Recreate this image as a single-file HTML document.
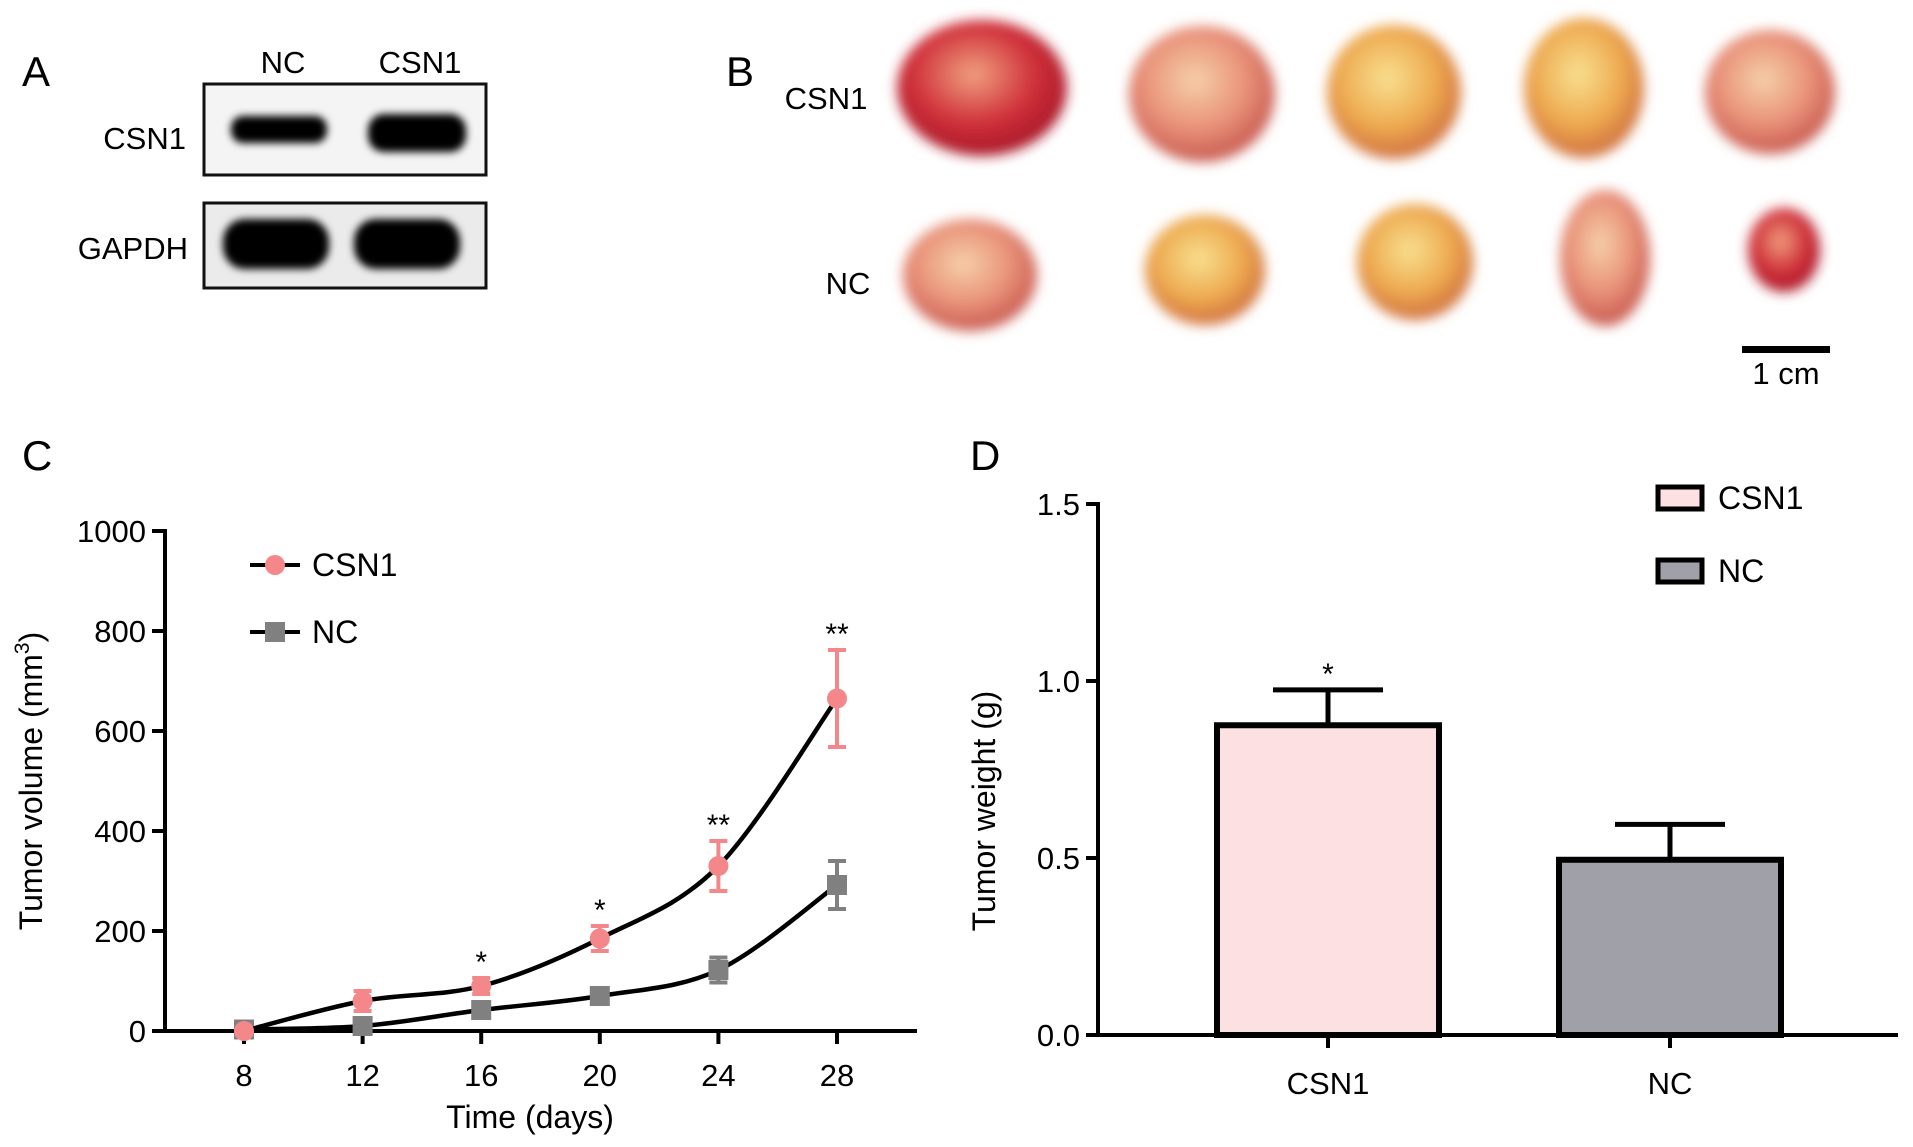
<!DOCTYPE html>
<html><head><meta charset="utf-8">
<style>
html,body{margin:0;padding:0;background:#fff;}
svg{display:block;font-family:"Liberation Sans",Arial,sans-serif;}
</style></head>
<body>
<svg id="fig" width="1913" height="1147" viewBox="0 0 1913 1147" xmlns="http://www.w3.org/2000/svg">
<defs>
<filter id="blur4"><feGaussianBlur stdDeviation="4"/></filter>
<filter id="blur6"><feGaussianBlur stdDeviation="6"/></filter>
<radialGradient id="tRed" cx="45%" cy="40%" r="60%"><stop offset="0" stop-color="#f0a080"/><stop offset="0.6" stop-color="#d0303a"/><stop offset="1" stop-color="#a81828"/></radialGradient>
<radialGradient id="tPink" cx="45%" cy="40%" r="60%"><stop offset="0" stop-color="#f6d0a8"/><stop offset="0.6" stop-color="#e89078"/><stop offset="1" stop-color="#c85a50"/></radialGradient>
<radialGradient id="tYel" cx="45%" cy="40%" r="60%"><stop offset="0" stop-color="#f8e090"/><stop offset="0.6" stop-color="#eeaa50"/><stop offset="1" stop-color="#d07040"/></radialGradient>
</defs>

<g>
<text x="22" y="86" font-size="42">A</text>
<text x="283" y="73" font-size="31" text-anchor="middle">NC</text>
<text x="420" y="73" font-size="31" text-anchor="middle">CSN1</text>
<text x="186" y="149" font-size="31" text-anchor="end">CSN1</text>
<text x="188" y="259" font-size="31" text-anchor="end">GAPDH</text>
<rect x="204" y="84" width="282" height="91" fill="#f4f4f4" stroke="#111" stroke-width="3"/>
<rect x="204" y="203" width="282" height="85" fill="#ebebeb" stroke="#111" stroke-width="3"/>
<g filter="url(#blur4)">
<rect x="231" y="116" width="96" height="27" rx="12" fill="#000"/>
<rect x="368" y="114" width="98" height="38" rx="16" fill="#000"/>
<rect x="223" y="219" width="106" height="50" rx="22" fill="#000"/>
<rect x="354" y="219" width="106" height="50" rx="22" fill="#000"/>
</g>
</g>

<g>
<text x="726" y="86" font-size="42">B</text>
<text x="826" y="109" font-size="31" text-anchor="middle">CSN1</text>
<text x="848" y="294" font-size="31" text-anchor="middle">NC</text>
<g filter="url(#blur6)">
<ellipse cx="982" cy="88" rx="85" ry="68" fill="url(#tRed)"/>
<ellipse cx="1202" cy="94" rx="73" ry="68" fill="url(#tPink)"/>
<ellipse cx="1394" cy="92" rx="67" ry="67" fill="url(#tYel)"/>
<ellipse cx="1584" cy="88" rx="60" ry="70" fill="url(#tYel)"/>
<ellipse cx="1770" cy="92" rx="65" ry="62" fill="url(#tPink)"/>
<ellipse cx="970" cy="275" rx="67" ry="56" fill="url(#tPink)"/>
<ellipse cx="1205" cy="270" rx="60" ry="55" fill="url(#tYel)"/>
<ellipse cx="1415" cy="262" rx="58" ry="58" fill="url(#tYel)"/>
<ellipse cx="1605" cy="258" rx="45" ry="68" fill="url(#tPink)"/>
<ellipse cx="1784" cy="250" rx="36" ry="42" fill="url(#tRed)"/>
</g>
<rect x="1742" y="346" width="88" height="7" fill="#000"/>
<text x="1786" y="384" font-size="31" text-anchor="middle">1 cm</text>
</g>

<g id="panelC">
<text x="22" y="470" font-size="42">C</text>
</g>
<g id="panelD">
<text x="970" y="470" font-size="42">D</text>
</g>
</svg>
<script>
// ---- Panel C data ----
const days = [8, 12, 16, 20, 24, 28];
const csn1Volume = [0, 60, 90, 185, 330, 665];
const csn1Err = [6, 20, 16, 25, 50, 97];
const ncVolume = [3, 10, 42, 70, 122, 292];
const ncErr = [6, 8, 10, 8, 25, 48];
const volTicks = [0, 200, 400, 600, 800, 1000];
const volSig = ["", "", "*", "*", "**", "**"];
// ---- Panel D data ----
const groups = ["CSN1", "NC"];
const weights = [0.875, 0.495];
const weightErr = [0.1, 0.1];
const weightTicks = ["0.0", "0.5", "1.0", "1.5"];
const weightSig = ["*", ""];

const NS = "http://www.w3.org/2000/svg";
function mk(parent, tag, attrs, text) {
  const e = document.createElementNS(NS, tag);
  for (const k in attrs) e.setAttribute(k, attrs[k]);
  if (text !== undefined) e.textContent = text;
  parent.appendChild(e);
  return e;
}
const FS = 31;

(function () {
  const g = document.getElementById('panelC');
  const x = d => 244 + (d - 8) * (837 - 244) / 20;
  const y = v => 1031 - v * 0.5;
  let e;
  e = mk(g, 'line', {x1: 165, y1: 529, x2: 165, y2: 1033, stroke: '#000', 'stroke-width': 4});
  
  
  e = mk(g, 'line', {x1: 163, y1: 1031, x2: 917, y2: 1031, stroke: '#000', 'stroke-width': 4});
  
  
  volTicks.forEach(t => {
    const l = mk(g, 'line', {x1: 152, x2: 165, y1: y(t), y2: y(t), stroke: '#000', 'stroke-width': 4});
    
    
    const tx = mk(g, 'text', {x: 146, y: y(t) + 11, 'font-size': FS, 'text-anchor': 'end'}, String(t));
    
    
  });
  days.forEach(d => {
    const l = mk(g, 'line', {x1: x(d), x2: x(d), y1: 1031, y2: 1044, stroke: '#000', 'stroke-width': 4});
    
    
    const tx = mk(g, 'text', {x: x(d), y: 1086, 'font-size': FS, 'text-anchor': 'middle'}, String(d));
    
    
  });
  e = mk(g, 'text', {x: 530, y: 1128, 'font-size': 32, 'text-anchor': 'middle'}, 'Time (days)');
  
  
  e = mk(g, 'text', {x: 0, y: 0, 'font-size': 32, 'text-anchor': 'middle', transform: 'translate(42,781) rotate(-90)'});
  
  
  mk(e, 'tspan', {}, 'Tumor volume (mm');
  mk(e, 'tspan', {'font-size': 21, dy: -13}, '3');
  mk(e, 'tspan', {dy: 13}, ')');

  function smooth(vals) {
    const p = days.map((d, i) => [x(d), y(vals[i])]);
    let s = 'M' + p[0][0] + ',' + p[0][1];
    for (let i = 0; i < p.length - 1; i++) {
      const p0 = p[i - 1] || p[i], p1 = p[i], p2 = p[i + 1], p3 = p[i + 2] || p2;
      const c1 = [p1[0] + (p2[0] - p0[0]) / 6, p1[1] + (p2[1] - p0[1]) / 6];
      const c2 = [p2[0] - (p3[0] - p1[0]) / 6, p2[1] - (p3[1] - p1[1]) / 6];
      s += ' C' + c1 + ' ' + c2 + ' ' + p2;
    }
    return s;
  }
  function series(vals, errs, color, shape, name) {
    const ln = mk(g, 'path', {d: smooth(vals), fill: 'none', stroke: '#000', 'stroke-width': 4.5});
    
    
    days.forEach((d, i) => {
      const cx = x(d), cy = y(vals[i]), t = y(vals[i] + errs[i]), b = y(vals[i] - errs[i]);
      const eb = mk(g, 'path', {d: `M${cx},${t}V${b}M${cx - 9},${t}H${cx + 9}M${cx - 9},${b}H${cx + 9}`, stroke: color, 'stroke-width': 4, fill: 'none'});
      
      
      let m;
      if (shape === 'circle') m = mk(g, 'circle', {cx: cx, cy: cy, r: 10, fill: color});
      else m = mk(g, 'rect', {x: cx - 10, y: cy - 10, width: 20, height: 20, fill: color});
      
      
    });
  }
  series(ncVolume, ncErr, '#808080', 'square', 'nc');
  series(csn1Volume, csn1Err, '#f4878a', 'circle', 'csn1');
  days.forEach((d, i) => {
    if (!volSig[i]) return;
    const s = mk(g, 'text', {x: x(d), y: y(csn1Volume[i] + csn1Err[i]) - 6, 'font-size': 30, 'text-anchor': 'middle'}, volSig[i]);
    
    
  });
  [['CSN1', '#f4878a', 'circle', 565], ['NC', '#808080', 'square', 632]].forEach(([lab, c, sh, ly]) => {
    const lg = mk(g, 'g', {});
    
    
    mk(lg, 'line', {x1: 250, x2: 300, y1: ly, y2: ly, stroke: '#000', 'stroke-width': 4});
    if (sh === 'circle') mk(lg, 'circle', {cx: 275, cy: ly, r: 10, fill: c});
    else mk(lg, 'rect', {x: 265, y: ly - 10, width: 20, height: 20, fill: c});
    mk(lg, 'text', {x: 312, y: ly + 11, 'font-size': 32}, lab);
  });
})();

(function () {
  const g = document.getElementById('panelD');
  const y = v => 1035 - v * (1035 - 504) / 1.5;
  const centers = [1328, 1670];
  const bw = 222;
  const fills = ['#fde0e2', '#a0a0a8'];
  let e;
  e = mk(g, 'line', {x1: 1098, y1: 502, x2: 1098, y2: 1037, stroke: '#000', 'stroke-width': 4});
  
  
  e = mk(g, 'line', {x1: 1096, y1: 1035, x2: 1898, y2: 1035, stroke: '#000', 'stroke-width': 4});
  
  
  weightTicks.forEach(t => {
    const v = parseFloat(t);
    const l = mk(g, 'line', {x1: 1086, x2: 1098, y1: y(v), y2: y(v), stroke: '#000', 'stroke-width': 4});
    
    
    const tx = mk(g, 'text', {x: 1080, y: y(v) + 11, 'font-size': FS, 'text-anchor': 'end'}, t);
    
    
  });
  e = mk(g, 'text', {x: 0, y: 0, 'font-size': 32, 'text-anchor': 'middle', transform: 'translate(995,811) rotate(-90)'}, 'Tumor weight (g)');
  
  
  groups.forEach((grp, i) => {
    const cx = centers[i];
    const top = y(weights[i] + weightErr[i]);
    const eb = mk(g, 'path', {d: `M${cx},${y(weights[i])}V${top}M${cx - 55},${top}H${cx + 55}`, stroke: '#000', 'stroke-width': 5, fill: 'none'});
    
    
    const b = mk(g, 'rect', {x: cx - bw / 2, y: y(weights[i]), width: bw, height: 1035 - y(weights[i]), fill: fills[i], stroke: '#000', 'stroke-width': 6});
    
    
    const tk = mk(g, 'line', {x1: cx, x2: cx, y1: 1035, y2: 1048, stroke: '#000', 'stroke-width': 4});
    
    
    const tl = mk(g, 'text', {x: cx, y: 1094, 'font-size': FS, 'text-anchor': 'middle'}, grp);
    
    
    if (weightSig[i]) {
      const s = mk(g, 'text', {x: cx, y: top - 6, 'font-size': 30, 'text-anchor': 'middle'}, weightSig[i]);
      
      
    }
  });
  [[0, 498], [1, 571]].forEach(([i, ly]) => {
    const lg = mk(g, 'g', {});
    
    
    mk(lg, 'rect', {x: 1658, y: ly - 11, width: 44, height: 22, fill: fills[i], stroke: '#000', 'stroke-width': 5});
    mk(lg, 'text', {x: 1718, y: ly + 11, 'font-size': 32}, groups[i]);
  });
})();
</script>
</body></html>
